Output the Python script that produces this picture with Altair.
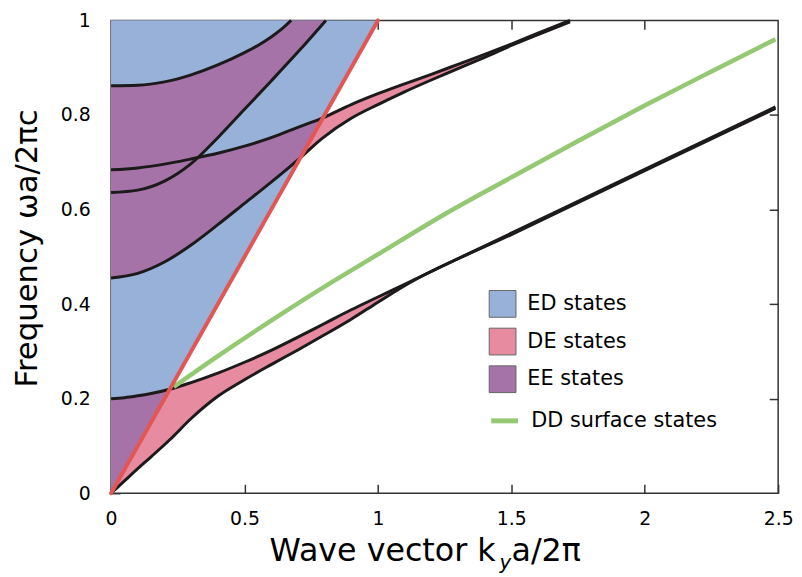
import altair as alt
import pandas as pd

BLUE = "#98b1d9"
PINK = "#e78ba0"
PURPLE = "#a673a8"
RED = "#e35656"
GREEN = "#95c873"
BLACK = "#1c1a1a"
FONT = "DejaVu Sans"

states = ["ED states", "DE states", "EE states"]
state_colors = [BLUE, PINK, PURPLE]

# light line  omega = k
light_k = [0.0, 1.0]
light_w = [0.0, 1.0]

# band 1 (lowest)
k1 = [0.0, 0.05, 0.1, 0.15, 0.22, 0.3, 0.4, 0.5, 0.6, 0.7, 0.8, 0.9, 1.0, 1.1]
L1 = [0.0, 0.026, 0.052, 0.077, 0.113, 0.158, 0.205, 0.240, 0.272, 0.303, 0.335, 0.368, 0.404, 0.439]
U1 = [0.200, 0.202, 0.206, 0.211, 0.220, 0.234, 0.254, 0.277, 0.302, 0.330, 0.359, 0.388, 0.415, 0.442]
k1_tail = [1.5, 2.0, 2.49]
U1_tail = [0.550, 0.685, 0.817]
L1_tail = [0.547, 0.682, 0.814]

# band 2
k2 = [0.0, 0.1, 0.2, 0.3, 0.4, 0.5, 0.6, 0.71, 0.79, 0.9, 1.0, 1.1, 1.2, 1.3, 1.4, 1.5]
L2 = [0.455, 0.465, 0.489, 0.525, 0.568, 0.613, 0.658, 0.710, 0.750, 0.793, 0.822, 0.849, 0.874, 0.898, 0.922, 0.947]
U2 = [0.684, 0.688, 0.696, 0.707, 0.719, 0.734, 0.752, 0.776, 0.793, 0.822, 0.845, 0.866, 0.886, 0.907, 0.928, 0.950]
k2_tail = [1.6, 1.72]
U2_tail = [0.973, 1.0]
L2_tail = [0.970, 0.997]

# band 3
kL3 = [0.0, 0.1, 0.2, 0.3, 0.4, 0.5, 0.6, 0.7, 0.805]
L3 = [0.636, 0.641, 0.660, 0.697, 0.752, 0.812, 0.872, 0.933, 1.0]
kU3 = [0.0, 0.1, 0.2, 0.3, 0.4, 0.5, 0.55, 0.6, 0.64, 0.675]
U3 = [0.862, 0.863, 0.870, 0.885, 0.906, 0.932, 0.947, 0.965, 0.982, 1.0]

# DD surface states
kG = [0.235, 0.4, 0.6, 0.8, 1.0, 1.25, 1.5, 1.75, 2.0, 2.25, 2.49]
G = [0.225, 0.290, 0.365, 0.437, 0.505, 0.590, 0.668, 0.745, 0.820, 0.892, 0.960]

x_ticks = [0, 0.5, 1, 1.5, 2, 2.5]
y_ticks = [0, 0.2, 0.4, 0.6, 0.8, 1]

# ---------- tables ----------
light_df = pd.DataFrame({"k": light_k, "w": light_w, "state": "ED states"})
band1 = pd.DataFrame({"k": k1, "L": L1, "U": U1})
band2 = pd.DataFrame({"k": k2, "L": L2, "U": U2})
L3_df = pd.DataFrame({"k": kL3, "w": L3, "state": "EE states"})
U3_df = pd.DataFrame({"k": kU3, "w": U3, "state": "ED states"})
curves = pd.concat([
    pd.DataFrame({"k": k1 + k1_tail, "w": L1 + L1_tail, "curve": "L1"}),
    pd.DataFrame({"k": k1 + k1_tail, "w": U1 + U1_tail, "curve": "U1"}),
    pd.DataFrame({"k": k2 + k2_tail, "w": L2 + L2_tail, "curve": "L2"}),
    pd.DataFrame({"k": k2 + k2_tail, "w": U2 + U2_tail, "curve": "U2"}),
    pd.DataFrame({"k": kL3, "w": L3, "curve": "L3"}),
    pd.DataFrame({"k": kU3, "w": U3, "curve": "U3"}),
], ignore_index=True)
green_df = pd.DataFrame({"k": kG, "w": G, "name": "DD surface states"})

xs = alt.Scale(domain=[0, 2.5], nice=False, zero=False)
ys = alt.Scale(domain=[0, 1], nice=False, zero=False)

tick_style = dict(tickSize=9, offset=-9, domain=False, tickColor="#333", tickWidth=1.5,
                  grid=False, title=None)
bottom_axis = alt.Axis(orient="bottom", values=x_ticks, format="~g", labelPadding=17,
                       labelFontSize=19, labelFont=FONT, labelColor="black", labelFlush=False,
                       **tick_style)
left_axis = alt.Axis(orient="left", values=y_ticks, format="~g", labelPadding=21,
                     labelFontSize=19, labelFont=FONT, labelColor="black", labelFlush=False,
                     **tick_style)
top_axis = alt.Axis(orient="top", values=x_ticks[1:-1], labels=False, **tick_style)
right_axis = alt.Axis(orient="right", values=y_ticks[1:-1], labels=False, **tick_style)

fill_legend = alt.Legend(title=None, orient="none", legendX=381, legendY=272, padding=0,
                         symbolType="square", symbolSize=729, symbolStrokeColor="#666",
                         symbolStrokeWidth=1, symbolOpacity=1, labelFontSize=21, labelFont=FONT,
                         labelColor="black", rowPadding=6, labelOffset=11, labelLimit=400)
stroke_legend = alt.Legend(title=None, orient="none", legendX=381, legendY=388, padding=0,
                           symbolType="stroke", symbolSize=729, symbolStrokeWidth=5,
                           labelFontSize=21, labelFont=FONT, labelColor="black", labelOffset=11,
                           labelLimit=400)

fill_enc = alt.Fill("state:N", scale=alt.Scale(domain=states, range=state_colors),
                    legend=fill_legend)


def X():
    return alt.X("k:Q", scale=xs, axis=None)


def Y(field):
    return alt.Y(field, scale=ys, axis=None, stack=None)


blue_tri = alt.Chart(light_df).mark_area(interpolate="linear").encode(
    x=alt.X("k:Q", scale=xs, axis=bottom_axis),
    y=alt.Y("w:Q", scale=ys, axis=left_axis, stack=None),
    y2=alt.value(0), fill=fill_enc)

purple3 = alt.Chart(L3_df).mark_area(interpolate="monotone").encode(
    x=X(), y=Y("w:Q"), y2=alt.value(0), fill=fill_enc)
blue_u3 = alt.Chart(U3_df).mark_area(interpolate="monotone").encode(
    x=X(), y=Y("w:Q"), y2=alt.value(0), fill=fill_enc)

purple2 = alt.Chart(band2).transform_filter("datum.U >= datum.k").transform_calculate(
    lo="max(datum.L, datum.k)", state="'EE states'").mark_area(interpolate="monotone").encode(
    x=X(), y=Y("lo:Q"), y2="U:Q", fill=fill_enc)
purple1 = alt.Chart(band1).transform_filter("datum.U >= datum.k").transform_calculate(
    lo="datum.k", state="'EE states'").mark_area(interpolate="monotone").encode(
    x=X(), y=Y("lo:Q"), y2="U:Q", fill=fill_enc)
pink1 = alt.Chart(band1).transform_filter("datum.L <= datum.k").transform_calculate(
    hi="min(datum.U, datum.k)", state="'DE states'").mark_area(interpolate="monotone").encode(
    x=X(), y=Y("L:Q"), y2="hi:Q", fill=fill_enc)
pink2 = alt.Chart(band2).transform_filter("datum.L <= datum.k").transform_calculate(
    hi="min(datum.U, datum.k)", state="'DE states'").mark_area(interpolate="monotone").encode(
    x=X(), y=Y("L:Q"), y2="hi:Q", fill=fill_enc)

lines = alt.Chart(curves).mark_line(color=BLACK, strokeWidth=3, interpolate="monotone").encode(
    x=X(), y=Y("w:Q"), detail="curve:N")

green = alt.Chart(green_df).mark_line(strokeWidth=4.5, interpolate="monotone").encode(
    x=X(), y=Y("w:Q"),
    stroke=alt.Stroke("name:N", scale=alt.Scale(domain=["DD surface states"], range=[GREEN]),
                      legend=stroke_legend))

red = alt.Chart(light_df).mark_line(color=RED, strokeWidth=4, strokeCap="round").encode(
    x=alt.X("k:Q", scale=xs, axis=top_axis),
    y=alt.Y("w:Q", scale=ys, axis=right_axis))

t1 = alt.Chart(pd.DataFrame({"t": ["Wave vector   k"]})).mark_text(
    font=FONT, fontSize=32, align="right", baseline="alphabetic", color="black").encode(
    x=alt.value(388), y=alt.value(545), text="t:N")
t2 = alt.Chart(pd.DataFrame({"t": ["y"]})).mark_text(
    font=FONT, fontSize=20, fontStyle="italic", align="left", baseline="alphabetic",
    color="black").encode(x=alt.value(392), y=alt.value(553), text="t:N")
t3 = alt.Chart(pd.DataFrame({"t": ["a/2π"]})).mark_text(
    font=FONT, fontSize=32, align="left", baseline="alphabetic", color="black").encode(
    x=alt.value(404), y=alt.value(545), text="t:N")
t4 = alt.Chart(pd.DataFrame({"t": ["Frequency  ωa/2πc"]})).mark_text(
    font=FONT, fontSize=31, align="center", baseline="middle", angle=270,
    color="black").encode(x=alt.value(-84), y=alt.value(230), text="t:N")

chart = alt.layer(
    blue_tri, purple3, blue_u3, purple2, purple1, pink1, pink2, lines, green, red,
    t1, t2, t3, t4
).resolve_axis(x="independent", y="independent").properties(
    width=673, height=477,
    autosize=alt.AutoSizeParams(type="none"),
    padding={"left": 104, "top": 10, "right": 16, "bottom": 82},
).configure_view(stroke="#333", strokeWidth=1.5)

chart.save("out.html", embed_options={"renderer": "svg", "actions": False})
